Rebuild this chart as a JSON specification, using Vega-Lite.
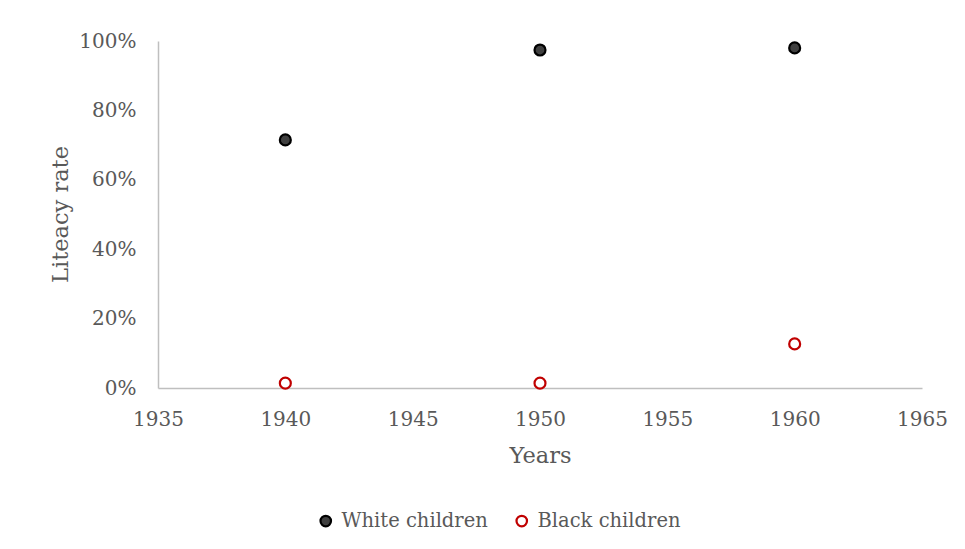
{
  "$schema": "https://vega.github.io/schema/vega-lite/v6.json",
  "width": 764,
  "height": 347,
  "autosize": {"type": "none"},
  "padding": {"left": 158, "top": 41, "right": 43, "bottom": 161},
  "background": "white",
  "config": {
    "view": {"stroke": null},
    "font": "DejaVu Serif",
    "axis": {
      "grid": false,
      "ticks": false,
      "tickSize": 0,
      "domainColor": "#bfbfbf",
      "domainWidth": 1.5,
      "labelColor": "#595959",
      "labelFontSize": 20,
      "labelFont": "DejaVu Serif",
      "titleColor": "#595959",
      "titleFont": "DejaVu Serif",
      "titleFontSize": 22.5,
      "titleFontWeight": "normal"
    },
    "legend": {
      "labelColor": "#595959",
      "labelFont": "DejaVu Serif",
      "labelFontSize": 19.5
    }
  },
  "data": {
    "values": [
      {"year": 1940, "group": "White children", "rate": 0.715},
      {"year": 1950, "group": "White children", "rate": 0.974},
      {"year": 1960, "group": "White children", "rate": 0.98},
      {"year": 1940, "group": "Black children", "rate": 0.014},
      {"year": 1950, "group": "Black children", "rate": 0.014},
      {"year": 1960, "group": "Black children", "rate": 0.127}
    ]
  },
  "mark": {"type": "point", "filled": false, "size": 120, "strokeWidth": 2.2, "opacity": 1},
  "encoding": {
    "x": {
      "field": "year",
      "type": "quantitative",
      "scale": {"domain": [1935, 1965], "nice": false, "zero": false},
      "axis": {
        "title": "Years",
        "values": [1935, 1940, 1945, 1950, 1955, 1960, 1965],
        "format": "d",
        "labelBaseline": "alphabetic",
        "labelPadding": 37,
        "labelFlush": false,
        "titleBaseline": "alphabetic",
        "titleY": 74
      }
    },
    "y": {
      "field": "rate",
      "type": "quantitative",
      "scale": {"domain": [0, 1], "nice": false},
      "axis": {
        "title": "Liteacy rate",
        "values": [0, 0.2, 0.4, 0.6, 0.8, 1],
        "format": ".0%",
        "labelPadding": 22,
        "labelFlush": false,
        "titleAngle": -90,
        "titleAlign": "center",
        "titleBaseline": "alphabetic",
        "titleX": -91,
        "titleY": 173
      }
    },
    "fill": {
      "field": "group",
      "type": "nominal",
      "scale": {"domain": ["White children", "Black children"], "range": ["#404040", "#ffffff"]},
      "legend": {
        "title": null,
        "orient": "none",
        "direction": "horizontal",
        "legendX": 158,
        "legendY": 470,
        "symbolSize": 110,
        "symbolStrokeWidth": 2.2,
        "labelOffset": 6,
        "columnPadding": 24
      }
    },
    "stroke": {
      "field": "group",
      "type": "nominal",
      "scale": {"domain": ["White children", "Black children"], "range": ["#000000", "#c00000"]},
      "legend": {
        "title": null,
        "orient": "none",
        "direction": "horizontal",
        "legendX": 158,
        "legendY": 470,
        "symbolSize": 110,
        "symbolStrokeWidth": 2.2,
        "labelOffset": 6,
        "columnPadding": 24
      }
    }
  }
}
